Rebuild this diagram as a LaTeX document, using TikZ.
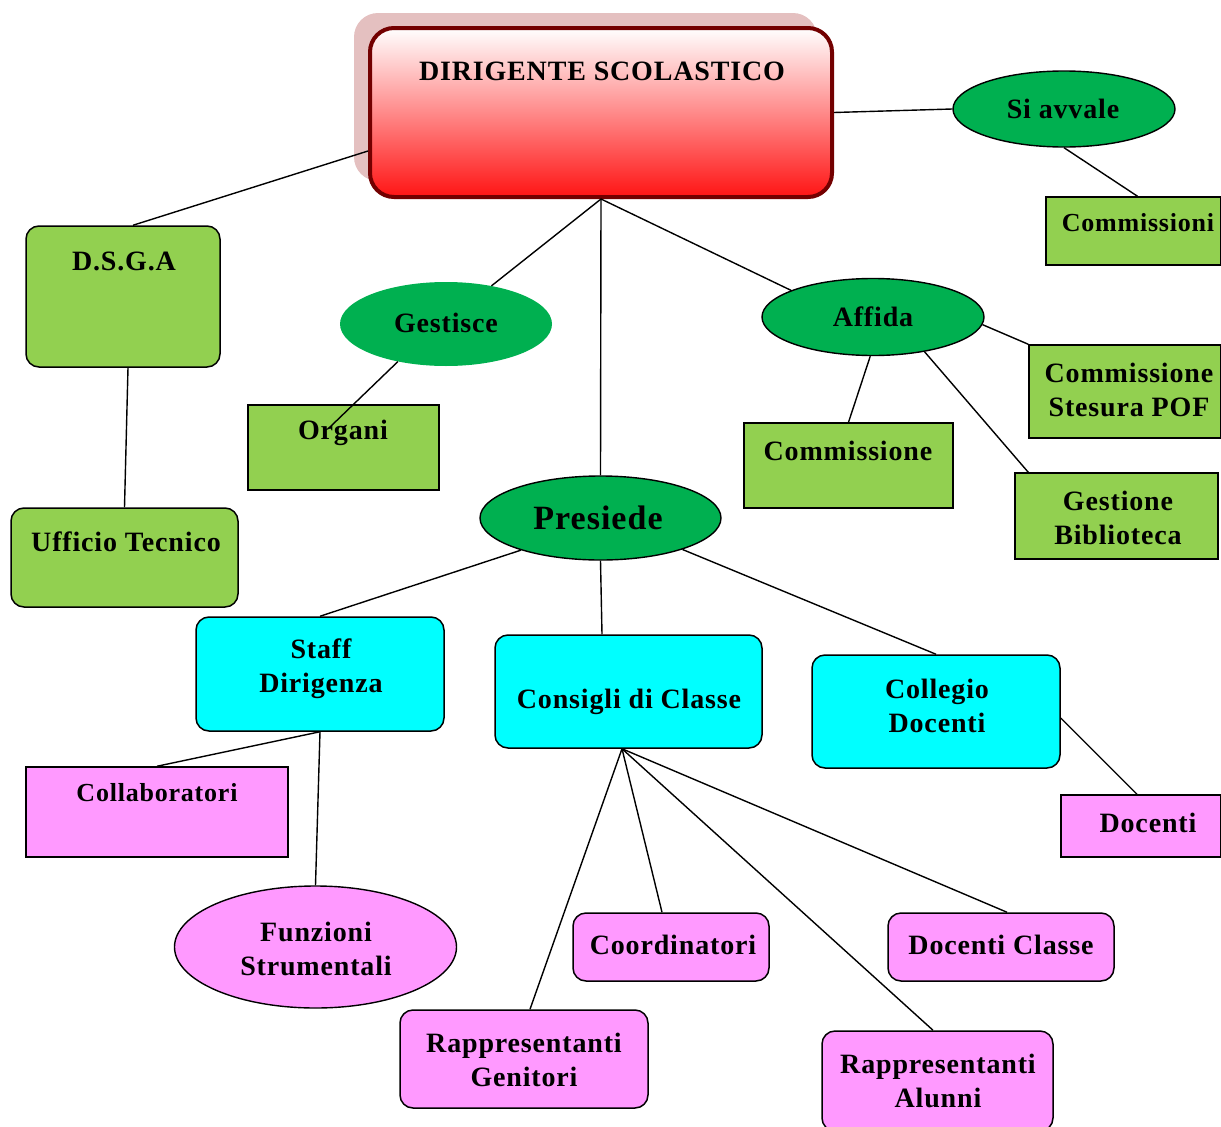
\documentclass[tikz,border=0pt]{standalone}
\usepackage{fontspec}
\setmainfont{Liberation Serif}[LetterSpace=3]
\usetikzlibrary{shapes.geometric,calc}
\definecolor{lgreen}{RGB}{146,208,80}
\definecolor{dgreen}{RGB}{0,176,80}
\definecolor{cyanb}{RGB}{0,255,255}
\definecolor{pinkb}{RGB}{255,153,255}
\definecolor{darkred}{RGB}{115,0,0}
\definecolor{shadowc}{RGB}{228,192,192}
\definecolor{redb}{RGB}{255,20,20}
\definecolor{midred}{RGB}{255,200,200}
\tikzset{
  box/.style={draw=black, line width=1.5pt, inner sep=0pt},
  rbox/.style={box, rounded corners=13pt},
  ell/.style={ellipse, inner sep=0pt},
  txt/.style={inner sep=0pt, align=center, font=\fontsize{28}{34}\selectfont\bfseries},
  stxt/.style={txt, font=\fontsize{26}{30}\selectfont\bfseries},
  conn/.style={draw=black, line width=1.4pt},
}
\begin{document}
\begin{tikzpicture}[x=1pt,y=-1pt]
\useasboundingbox (0,0) rectangle (1221,1127);
% shadow of top box
\fill[shadowc, rounded corners=24pt] (354,13) rectangle (817,181);
% top box
\node[draw=darkred, line width=4pt, rounded corners=24pt, inner sep=0pt,
      minimum width=462pt, minimum height=169pt,
      top color=white, middle color=midred, bottom color=redb] (dir) at (601,112.5) {};
\node[txt] (dirT) at (602,71) {DIRIGENTE SCOLASTICO};

% green level
\node[rbox, fill=lgreen, minimum width=194pt, minimum height=141pt] (dsga) at (123,296.5) {};
\node[txt] (dsgaT) at (124,261) {D.S.G.A};
\node[rbox, fill=lgreen, minimum width=227pt, minimum height=99pt] (uff) at (124.5,557.5) {};
\node[txt] (uffT) at (126,542) {Ufficio Tecnico};
\node[ell, fill=dgreen, minimum width=212pt, minimum height=84pt] (gest) at (446,324) {};
\node[txt] (gestT) at (446,323) {Gestisce};
\node[box, fill=lgreen, minimum width=191pt, minimum height=85pt] (org) at (343.5,447.5) {};
\node[txt] (orgT) at (343,433) {Organi};
\node[ell, draw=black, line width=1.4pt, fill=dgreen, minimum width=222pt, minimum height=77pt] (aff) at (873,317) {};
\node[txt] (affT) at (873,317) {Affida};
\node[box, fill=lgreen, minimum width=209pt, minimum height=85pt] (cm1) at (848.5,465.5) {};
\node[txt] (cm1T) at (848,451) {Commissione};
\node[box, fill=lgreen, minimum width=192pt, minimum height=93pt] (pof) at (1125,391.5) {};
\node[txt] (pofT) at (1129,390) {Commissione\\Stesura POF};
\node[box, fill=lgreen, minimum width=203pt, minimum height=86pt] (gb) at (1116.5,516) {};
\node[txt] (gbT) at (1118,518) {Gestione\\Biblioteca};
\node[ell, draw=black, line width=1.4pt, fill=dgreen, minimum width=222pt, minimum height=76pt] (sav) at (1064,109) {};
\node[txt] (savT) at (1063,109) {Si avvale};
\node[box, fill=lgreen, minimum width=175pt, minimum height=68pt] (cms) at (1133.5,231) {};
\node[stxt] (cmsT) at (1138,223) {Commissioni};
\node[ell, draw=black, line width=1.4pt, fill=dgreen, minimum width=241pt, minimum height=84pt] (pres) at (600.5,518) {};
\node[txt, font=\fontsize{34}{40}\selectfont\bfseries] (presT) at (598,518) {Presiede};

% cyan level
\node[rbox, fill=cyanb, minimum width=248pt, minimum height=114pt] (staff) at (320,674) {};
\node[txt] (staffT) at (321,669) {Staff\\Dirigenza};
\node[rbox, fill=cyanb, minimum width=267pt, minimum height=113pt] (cons) at (628.5,691.5) {};
\node[txt] (consT) at (629,702) {Consigli di Classe};
\node[rbox, fill=cyanb, minimum width=248pt, minimum height=113pt] (coll) at (936,711.5) {};
\node[txt] (collT) at (937,706) {Collegio\\Docenti};

% pink level
\node[box, fill=pinkb, minimum width=262pt, minimum height=90pt] (collab) at (157,812) {};
\node[stxt] (collabT) at (157,793) {Collaboratori};
\node[ell, draw=black, line width=1.4pt, fill=pinkb, minimum width=282pt, minimum height=122pt] (funz) at (315.5,947) {};
\node[txt] (funzT) at (316,949) {Funzioni\\Strumentali};
\node[box, fill=pinkb, minimum width=160pt, minimum height=62pt] (doc) at (1141,826) {};
\node[txt] (docT) at (1148,823) {Docenti};
\node[rbox, fill=pinkb, minimum width=196pt, minimum height=68pt] (coord) at (671,947) {};
\node[txt] (coordT) at (673,945) {Coordinatori};
\node[rbox, fill=pinkb, minimum width=226pt, minimum height=68pt] (dcl) at (1001,947) {};
\node[txt] (dclT) at (1001,945) {Docenti Classe};
\node[rbox, fill=pinkb, minimum width=248pt, minimum height=98pt] (rg) at (524,1059) {};
\node[txt] (rgT) at (524,1060) {Rappresentanti\\Genitori};
\node[rbox, fill=pinkb, minimum width=231pt, minimum height=100pt] (ra) at (937.5,1081) {};
\node[txt] (raT) at (938,1081) {Rappresentanti\\Alunni};

% connectors
\draw[conn] ([yshift=-38.5pt]dir.west) -- ([xshift=10pt]dsga.north);
\draw[conn] (dir.east) -- (sav.west);
\draw[conn] (sav.south) -- ([xshift=4pt]cms.north);
\draw[conn] (dir.south) -- (gest.40);
\draw[conn] (dir.south) -- (pres.north);
\draw[conn] (dir.south) -- (aff.162);
\draw[conn] ([xshift=5pt]dsga.south) -- (uff.north);
\draw[conn] (gest.218) -- ([xshift=-13.5pt,yshift=20.5pt]org.center);
\draw[conn] (aff.356) -- (pof.north west);
\draw[conn] (aff.266) -- (cm1.north);
\draw[conn] (aff.326) -- ([xshift=14pt]gb.north west);
\draw[conn] (pres.202) -- (staff.north);
\draw[conn] (pres.south) -- ([xshift=-26.5pt]cons.north);
\draw[conn] (pres.339) -- (coll.north);
\draw[conn] (staff.south) -- (collab.north);
\draw[conn] (staff.south) -- (funz.north);
\draw[conn] ([yshift=-6.5pt]coll.east) -- ([xshift=-4pt]doc.north);
\draw[conn] ([xshift=-6.5pt]cons.south) -- ([xshift=6pt]rg.north);
\draw[conn] ([xshift=-6.5pt]cons.south) -- ([xshift=-9pt]coord.north);
\draw[conn] ([xshift=-6.5pt]cons.south) -- ([xshift=6pt]dcl.north);
\draw[conn] ([xshift=-6.5pt]cons.south) -- ([xshift=-4.5pt]ra.north);
\end{tikzpicture}
\end{document}
